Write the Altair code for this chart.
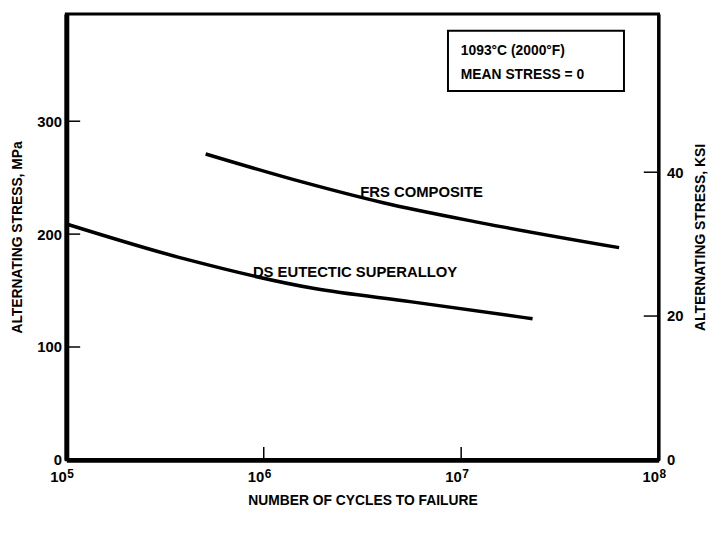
import altair as alt
import pandas as pd

# ---- data ----
frs_cycles = [5.08e5, 1.58e6, 3.98e6, 1.26e7, 6.31e7]
frs_mpa = [271, 246, 228, 210, 188]

ds_cycles = [1.0e5, 3.98e5, 1.78e6, 5.62e6, 2.3e7]
ds_mpa = [209, 178, 152, 140, 125]

mpa_ticks = [0, 100, 200, 300]
ksi_ticks = [0, 20, 40]
cycle_ticks = [1e5, 1e6, 1e7, 1e8]
cycle_tick_base = "10"
cycle_tick_exponents = ["5", "6", "7", "8"]

curve_labels = ["FRS COMPOSITE", "DS EUTECTIC SUPERALLOY"]
curve_label_cycles = [6.3e6, 2.9e6]
curve_label_mpa = [237, 166]

note_lines = ["1093°C  (2000°F)", "MEAN STRESS  =  0"]

MPA_MAX = 395
KSI_MAX = 62

W, H = 599, 451
FONT = "Liberation Sans"

lines_df = pd.DataFrame({
    "cycles": frs_cycles + ds_cycles,
    "mpa": frs_mpa + ds_mpa,
    "series": ["FRS"] * len(frs_cycles) + ["DS"] * len(ds_cycles),
})
labels_df = pd.DataFrame({"label": curve_labels, "cycles": curve_label_cycles, "mpa": curve_label_mpa})
exp_df = pd.DataFrame({"v": cycle_ticks, "e": cycle_tick_exponents})

xscale = alt.Scale(type="log", domain=[1e5, 1e8], nice=False)
yscale = alt.Scale(domain=[0, MPA_MAX], nice=False, zero=True)
kscale = alt.Scale(domain=[0, KSI_MAX], nice=False, zero=True)

xaxis = alt.Axis(
    values=cycle_ticks, labelExpr=f"'{cycle_tick_base}'", title="NUMBER OF CYCLES TO FAILURE",
    grid=False, ticks=False, domainColor="black", domainWidth=5,
    labelFont=FONT, labelFontWeight="bold", labelFontSize=15, labelColor="black",
    labelPadding=10, labelAlign="right", titleFont=FONT, titleFontWeight="bold", titleFontSize=14,
    titleColor="black", titlePadding=9, labelFlush=False,
)
yaxis = alt.Axis(
    values=mpa_ticks, title="ALTERNATING STRESS, MPa", grid=False, ticks=False,
    domainColor="black", domainWidth=5, labelFont=FONT, labelFontWeight="bold",
    labelFontSize=15, labelColor="black", labelPadding=5, titleFont=FONT,
    titleFontWeight="bold", titleFontSize=14, titleColor="black", titlePadding=12,
)
kaxis = alt.Axis(
    orient="right", values=ksi_ticks, title="ALTERNATING STRESS, KSI", grid=False,
    ticks=False, domainColor="black", domainWidth=3, labelFont=FONT,
    labelFontWeight="bold", labelFontSize=15, labelColor="black", labelPadding=8,
    titleFont=FONT, titleFontWeight="bold", titleFontSize=14, titleColor="black",
    titlePadding=11, titleAngle=270, titleBaseline="top",
)

curves = alt.Chart(lines_df).mark_line(color="black", strokeWidth=3.5, interpolate="monotone").encode(
    x=alt.X("cycles:Q", scale=xscale, axis=xaxis),
    y=alt.Y("mpa:Q", scale=yscale, axis=yaxis),
    detail="series:N",
)

curve_text = alt.Chart(labels_df).mark_text(
    font=FONT, fontWeight="bold", fontSize=15, color="black"
).encode(
    x=alt.X("cycles:Q", scale=xscale),
    y=alt.Y("mpa:Q", scale=yscale, axis=None),
    text="label:N",
)

exp_text = alt.Chart(exp_df).mark_text(
    font=FONT, fontWeight="bold", fontSize=12, color="black", align="left", dx=1
).encode(
    x=alt.X("v:Q", scale=xscale),
    y=alt.value(H + 14),
    text="e:N",
)

left_ticks = alt.Chart(pd.DataFrame({"v": mpa_ticks[1:]})).mark_rule(color="black", strokeWidth=1.5).encode(
    y=alt.Y("v:Q", scale=yscale, axis=None), x=alt.value(0), x2=alt.value(14)
)
bottom_ticks = alt.Chart(pd.DataFrame({"v": cycle_ticks[1:-1]})).mark_rule(color="black", strokeWidth=1.5).encode(
    x=alt.X("v:Q", scale=xscale), y=alt.value(H - 13), y2=alt.value(H)
)

box = alt.Chart(pd.DataFrame({"a": [0]})).mark_rect(
    fill="white", stroke="black", strokeWidth=2
).encode(x=alt.value(386), x2=alt.value(564), y=alt.value(17), y2=alt.value(78))

note1 = alt.Chart(pd.DataFrame({"t": [note_lines[0]]})).mark_text(
    font=FONT, fontWeight="bold", fontSize=14, color="black", align="left", baseline="middle"
).encode(x=alt.value(399), y=alt.value(37), text="t:N")
note2 = alt.Chart(pd.DataFrame({"t": [note_lines[1]]})).mark_text(
    font=FONT, fontWeight="bold", fontSize=14, color="black", align="left", baseline="middle"
).encode(x=alt.value(399), y=alt.value(62), text="t:N")

right_ticks = alt.Chart(pd.DataFrame({"k": ksi_ticks})).mark_rule(color="black", strokeWidth=1.5).encode(
    y=alt.Y("k:Q", scale=kscale, axis=kaxis),
    x=alt.value(W - 15), x2=alt.value(W),
    opacity=alt.condition("datum.k > 0", alt.value(1), alt.value(0)),
)

chart = alt.layer(
    curves, curve_text, exp_text, left_ticks, bottom_ticks, box, note1, note2, right_ticks
).resolve_scale(y="independent").properties(
    width=W, height=H,
    autosize=alt.AutoSizeParams(type="none"),
    padding={"left": 59, "top": 3, "right": 51, "bottom": 80},
).configure_view(stroke="black", strokeWidth=3)

chart.save("out.html", embed_options={"renderer": "svg", "actions": False})
